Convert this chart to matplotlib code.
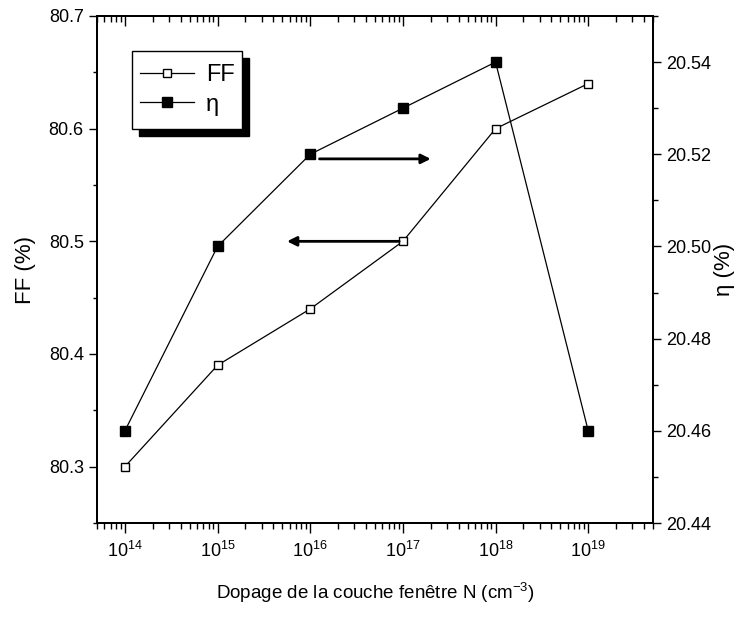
import matplotlib
matplotlib.use("Agg")
import matplotlib.pyplot as plt
from matplotlib import font_manager
from matplotlib.patches import Rectangle
from matplotlib.ticker import MultipleLocator, LogLocator, FormatStrFormatter, NullFormatter

plt.rcParams['font.family'] = ['Liberation Sans', 'DejaVu Sans']
plt.rcParams['mathtext.default'] = 'regular'

# data
doping = [1e14, 1e15, 1e16, 1e17, 1e18, 1e19]
ff = [80.30, 80.39, 80.44, 80.50, 80.60, 80.64]
eta = [20.46, 20.50, 20.52, 20.53, 20.54, 20.46]
xlabel = "Dopage de la couche fenêtre N (cm$^{-3}$)"
ylabel_left = "FF (%)"
ylabel_right = "η (%)"

try:
    font_manager.findfont(font_manager.FontProperties(family='Liberation Sans Narrow'), fallback_to_default=False)
    narrow = True
except Exception:
    narrow = False
label_family = ['Liberation Sans Narrow', 'Liberation Sans', 'DejaVu Sans'] if narrow else ['Liberation Sans', 'DejaVu Sans']
xlabel_size = 16.5 if narrow else 13.5

fig = plt.figure(figsize=(7.39, 6.17), dpi=100)
ax = fig.add_axes([97/739, 1-523/617, 556/739, 507/617])
ax2 = ax.twinx()

ax.plot(doping, ff, color='black', lw=0.9, marker='s', ms=6, mfc='white', mec='black', mew=1, label='FF')
ax2.plot(doping, eta, color='black', lw=0.9, marker='s', ms=6.5, mfc='black', mec='black', mew=1, label='η')

ax.set_xscale('log')
ax.set_xlim(5e13, 5e19)
ax.set_ylim(80.25, 80.70)
ax2.set_ylim(20.44, 20.55)

ax.yaxis.set_major_locator(MultipleLocator(0.1))
ax.yaxis.set_minor_locator(MultipleLocator(0.05))
ax.yaxis.set_major_formatter(FormatStrFormatter('%.1f'))
ax2.yaxis.set_major_locator(MultipleLocator(0.02))
ax2.yaxis.set_minor_locator(MultipleLocator(0.01))
ax2.yaxis.set_major_formatter(FormatStrFormatter('%.2f'))

ax.xaxis.set_major_locator(LogLocator(base=10, numticks=20))
ax.xaxis.set_minor_locator(LogLocator(base=10, subs=[2, 3, 4, 5, 6, 7, 8, 9], numticks=20))
ax.xaxis.set_minor_formatter(NullFormatter())

for a in (ax, ax2):
    for s in a.spines.values():
        s.set_linewidth(1.4)

ax.tick_params(axis='y', which='major', direction='out', length=6, width=1, labelsize=13, right=False)
ax.tick_params(axis='y', which='minor', direction='out', length=3, width=1, right=False)
ax.tick_params(axis='x', which='major', direction='out', length=7, width=1, labelsize=13, top=False, pad=6)
ax.tick_params(axis='x', which='minor', direction='out', length=4, width=1, top=False)
ax2.tick_params(axis='y', which='major', direction='out', length=6, width=1, labelsize=13)
ax2.tick_params(axis='y', which='minor', direction='out', length=3.5, width=1)

ax2.xaxis.set_visible(True)
ax2.tick_params(axis='x', which='both', bottom=False, top=True, labelbottom=False, labeltop=False, direction='in')
ax2.tick_params(axis='x', which='major', length=7, width=1)
ax2.tick_params(axis='x', which='minor', length=4, width=1)

ax.set_xlabel(xlabel, fontsize=xlabel_size, labelpad=14, family=label_family)
ax.set_ylabel(ylabel_left, fontsize=16, labelpad=9)
ax2.set_ylabel(ylabel_right, fontsize=16, labelpad=2)

# arrows
ax2.annotate('', xy=(10**17.3, 20.519), xytext=(10**16.1, 20.519),
             arrowprops=dict(arrowstyle='-|>', lw=2, color='black', mutation_scale=14, shrinkA=0, shrinkB=0))
ax.annotate('', xy=(10**15.75, 80.50), xytext=(10**16.96, 80.50),
            arrowprops=dict(arrowstyle='-|>', lw=2, color='black', mutation_scale=14, shrinkA=0, shrinkB=0))

# legend with hard shadow
x0, y0, w, h = 0.063, 0.777, 0.198, 0.154
dx, dy = 7/556, 7/507
ax2.add_patch(Rectangle((x0+dx, y0-dy), w, h, transform=ax2.transAxes, facecolor='black', edgecolor='black', zorder=5))
ax2.add_patch(Rectangle((x0, y0), w, h, transform=ax2.transAxes, facecolor='white', edgecolor='black', lw=1, zorder=6))
h1, l1 = ax.get_legend_handles_labels()
h2, l2 = ax2.get_legend_handles_labels()
leg = ax2.legend(h1+h2, l1+l2, loc='center', bbox_to_anchor=(x0+w/2, y0+h/2), bbox_transform=ax2.transAxes,
                 frameon=False, fontsize=17, handlelength=2.3, handletextpad=0.5, labelspacing=0.3, borderpad=0.2)
leg.set_zorder(7)

fig.savefig('out.png', dpi=100)
